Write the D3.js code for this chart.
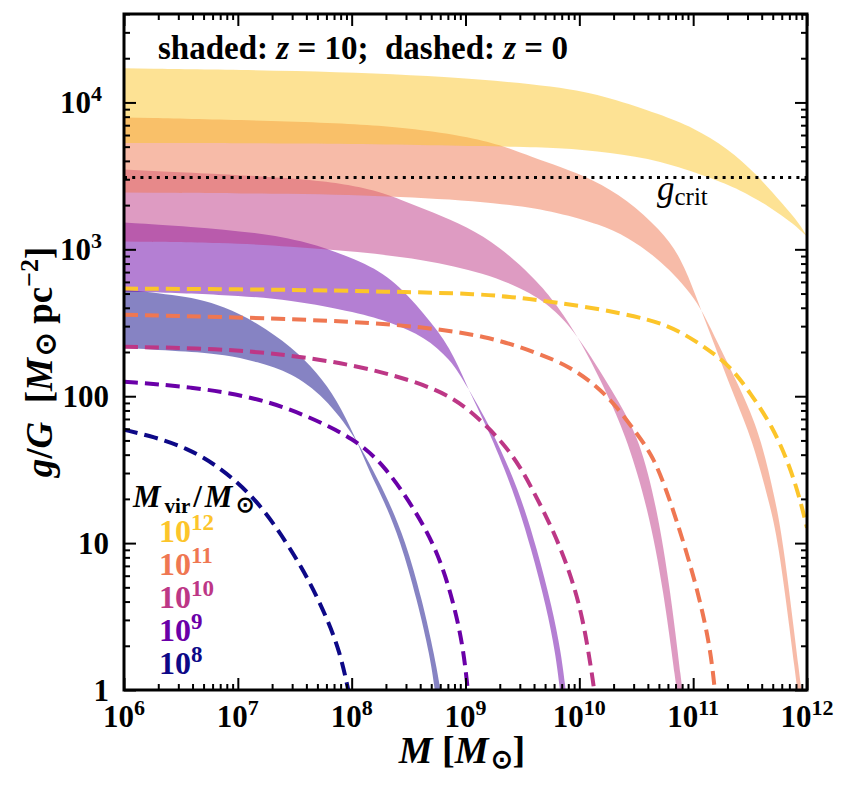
<!DOCTYPE html>
<html>
<head>
<meta charset="utf-8">
<script src="https://cdn.jsdelivr.net/npm/d3@7"></script>
<style>
  body { margin: 0; background: #fff; }
  text { font-family: 'Liberation Serif', 'Times New Roman', serif; font-weight: bold; white-space: pre; }
</style>
</head>
<body>
<div id="chart"></div>
<script>
// values, stored as [log10 M, log10 g/G]
// shaded bands (z = 10): upper and lower edge of each band, they cross at M ~ Mvir
const band8Upper = [[6.00,2.726],[6.59,2.678],[6.88,2.610],[7.17,2.501],[7.47,2.337],[7.70,2.160],[7.87,1.976],[8.03,1.724],[8.16,1.479],[8.28,1.295],[8.425,1.022],[8.575,0.613],[8.69,0.225],[8.73,0]];
const band8Lower = [[6.00,2.330],[6.59,2.303],[6.88,2.283],[7.17,2.235],[7.47,2.160],[7.76,1.997],[8.03,1.724],[8.20,1.479],[8.32,1.295],[8.47,1.022],[8.62,0.613],[8.73,0.225],[8.78,0]];
const band9Upper = [[6.00,3.182],[6.59,3.155],[7.17,3.114],[7.61,3.053],[8.05,2.930],[8.35,2.808],[8.64,2.56],[8.87,2.33],[9.01,2.07],[9.19,1.792],[9.42,1.363],[9.58,0.954],[9.71,0.566],[9.79,0.252],[9.83,0]];
const band9Lower = [[6.00,2.712],[6.88,2.692],[7.47,2.658],[8.05,2.569],[8.35,2.501],[8.64,2.405],[8.87,2.25],[9.01,2.07],[9.22,1.792],[9.47,1.363],[9.63,0.954],[9.76,0.566],[9.84,0.252],[9.88,0]];
const band10Upper = [[6.00,3.543],[7.55,3.489],[8.14,3.421],[8.43,3.339],[8.72,3.250],[9.01,3.155],[9.30,3.019],[9.59,2.814],[9.77,2.658],[10.01,2.385],[10.27,1.976],[10.42,1.704],[10.60,1.247],[10.74,0.681],[10.855,0]];
const band10Lower = [[6.00,3.053],[6.88,3.046],[7.47,3.019],[8.05,2.985],[8.64,2.930],[9.16,2.842],[9.59,2.705],[9.83,2.555],[10.01,2.385],[10.34,1.976],[10.53,1.704],[10.68,1.247],[10.80,0.681],[10.905,0]];
const band11Upper = [[6.00,3.898],[7.55,3.871],[8.43,3.837],[9.01,3.768],[9.30,3.714],[9.59,3.625],[9.83,3.564],[10.12,3.475],[10.42,3.339],[10.71,3.135],[10.89,2.951],[11.03,2.67],[11.17,2.385],[11.36,1.997],[11.52,1.704],[11.66,1.295],[11.75,1.022],[11.915,0]];
const band11Lower = [[6.00,3.387],[7.55,3.380],[8.43,3.359],[9.30,3.319],[9.83,3.250],[10.18,3.169],[10.42,3.087],[10.71,2.930],[11.03,2.67],[11.20,2.385],[11.45,1.997],[11.60,1.704],[11.72,1.295],[11.79,1.022],[11.95,0]];
const band12Upper = [[6.00,4.232],[7.55,4.218],[8.87,4.177],[9.83,4.109],[10.27,4.034],[10.71,3.918],[11.00,3.83],[11.30,3.69],[11.56,3.509],[11.79,3.305],[11.94,3.169],[12.00,3.087]];
const band12Lower = [[6.00,3.724],[7.55,3.724],[9.30,3.700],[9.83,3.693],[10.27,3.659],[10.71,3.605],[11.15,3.488],[11.41,3.407],[11.67,3.291],[11.89,3.169],[12.00,3.087]];

// dashed curves (z = 0)
const dash8 = [[6.00,1.772],[6.26,1.724],[6.55,1.649],[6.84,1.520],[7.17,1.295],[7.43,1.002],[7.61,0.770],[7.78,0.497],[7.90,0.252],[7.97,0]];
const dash9 = [[6.00,2.099],[6.59,2.065],[7.17,1.990],[7.59,1.874],[8.03,1.710],[8.29,1.526],[8.54,1.247],[8.75,0.954],[8.89,0.613],[8.98,0.293],[9.02,0]];
const dash10 = [[6.00,2.337],[6.84,2.324],[7.43,2.283],[8.01,2.215],[8.52,2.112],[8.89,1.997],[9.13,1.840],[9.33,1.683],[9.48,1.520],[9.59,1.363],[9.77,1.090],[9.92,0.797],[10.03,0.497],[10.11,0.116],[10.13,0]];
const dash11 = [[6.00,2.555],[7.13,2.535],[8.01,2.508],[8.60,2.474],[9.19,2.410],[9.63,2.296],[9.92,2.201],[10.16,2.065],[10.33,1.928],[10.51,1.740],[10.65,1.588],[10.77,1.350],[10.89,1.070],[11.04,0.681],[11.15,0.293],[11.19,0]];
const dash12 = [[6.00,2.733],[7.43,2.726],[8.31,2.712],[9.13,2.698],[9.54,2.665],[10.07,2.610],[10.65,2.521],[10.90,2.435],[11.13,2.32],[11.33,2.201],[11.50,2.024],[11.70,1.792],[11.85,1.520],[11.94,1.295],[12.00,1.104]];

const gCrit = 3080;
const mvirExps = [8, 9, 10, 11, 12];
const colors = ['#0d0887', '#6a00a8', '#bd3786', '#ef7752', '#fcc52a'];
const xTickExps = [6, 7, 8, 9, 10, 11, 12];
const yTickValues = [1, 10, 100, 1000, 10000];

const bands = [[band8Upper, band8Lower], [band9Upper, band9Lower], [band10Upper, band10Lower], [band11Upper, band11Lower], [band12Upper, band12Lower]];
const dashes = [dash8, dash9, dash10, dash11, dash12];

// add SVG to the page
const margin = { top: 14, right: 43, bottom: 108, left: 124 };
const width = 850 - margin.left - margin.right;
const height = 798 - margin.top - margin.bottom;
const svg = d3
    .select('#chart')
    .append('svg')
    .attr('width', width + margin.left + margin.right)
    .attr('height', height + margin.top + margin.bottom)
    .append('g')
    .attr('transform', `translate(${margin.left}, ${margin.top})`);

const xScale = d3.scaleLog().domain([1e6, 1e12]).range([0, width]);
const yScale = d3.scaleLog().domain([1, 4e4]).range([height, 0]);

svg.append('clipPath')
    .attr('id', 'plot-clip')
    .append('rect')
    .attr('width', width)
    .attr('height', height);

const plot = svg.append('g').attr('clip-path', 'url(#plot-clip)');

// basis spline smooths out the reading noise of the picked points
const line = d3
    .line()
    .x(d => xScale(Math.pow(10, d[0])))
    .y(d => yScale(Math.pow(10, d[1])))
    .curve(d3.curveBasis);

// band = upper edge, then lower edge walked backwards
const bandPath = (upper, lower) => {
    const top = line(upper);
    const bottom = line(lower.slice().reverse());
    return top + 'L' + bottom.slice(1) + 'Z';
};

plot.selectAll('.band')
    .data(bands)
    .enter()
    .append('path')
    .attr('class', 'band')
    .attr('d', d => bandPath(d[0], d[1]))
    .attr('fill', (d, i) => colors[i])
    .attr('fill-opacity', 0.5)
    .attr('stroke', 'none');

plot.selectAll('.dash')
    .data(dashes)
    .enter()
    .append('path')
    .attr('class', 'dash')
    .attr('d', line)
    .style('fill', 'none')
    .attr('stroke', (d, i) => colors[i])
    .attr('stroke-width', 4)
    .attr('stroke-dasharray', '14 7');

plot.append('line')
    .attr('x1', 0)
    .attr('x2', width)
    .attr('y1', yScale(gCrit))
    .attr('y2', yScale(gCrit))
    .attr('stroke', '#000')
    .attr('stroke-width', 3)
    .attr('stroke-dasharray', '3 5.2');

// ticks on all four sides, pointing inward
const majorX = xTickExps.map(e => Math.pow(10, e));
const minorX = xScale.ticks().filter(v => !majorX.some(m => Math.abs(m - v) / m < 1e-9));
const minorY = yScale.ticks().filter(v => !yTickValues.some(m => Math.abs(m - v) / m < 1e-9));

const tickAxis = (axis, values, size) => axis.tickValues(values).tickSizeInner(-size).tickSizeOuter(0).tickFormat('');

[[12, majorX, yTickValues], [6, minorX, minorY]].forEach(([size, xs, ys]) => {
    svg.append('g').attr('transform', `translate(0, ${height})`).call(tickAxis(d3.axisBottom(xScale), xs, size));
    svg.append('g').call(tickAxis(d3.axisTop(xScale), xs, size));
    svg.append('g').call(tickAxis(d3.axisLeft(yScale), ys, size));
    svg.append('g').attr('transform', `translate(${width}, 0)`).call(tickAxis(d3.axisRight(yScale), ys, size));
});
svg.selectAll('.domain').remove();
svg.selectAll('.tick line').attr('stroke', '#000').attr('stroke-width', 2);

svg.append('rect')
    .attr('width', width)
    .attr('height', height)
    .attr('fill', 'none')
    .attr('stroke', '#000')
    .attr('stroke-width', 3);

// tick labels
const xLabels = svg.selectAll('.xlab')
    .data(xTickExps)
    .enter()
    .append('text')
    .attr('class', 'xlab')
    .attr('x', d => xScale(Math.pow(10, d)))
    .attr('y', height + 37)
    .attr('text-anchor', 'middle')
    .style('font-size', '31px');
xLabels.append('tspan').text('10');
xLabels.append('tspan').attr('dy', -12).style('font-size', '22px').text(d => d);

const yLabels = svg.selectAll('.ylab')
    .data(yTickValues)
    .enter()
    .append('text')
    .attr('class', 'ylab')
    .attr('x', d => d < 1000 ? -15 : -22)
    .attr('y', d => yScale(d) + 11)
    .attr('text-anchor', 'end')
    .style('font-size', '31px');
yLabels.append('tspan').text(d => d < 1000 ? String(d) : '10');
yLabels.filter(d => d >= 1000).append('tspan').attr('dy', -12).style('font-size', '22px').text(d => Math.round(Math.log10(d)));

// axis titles
const xTitle = svg.append('text')
    .attr('x', 338)
    .attr('y', height + 73)
    .attr('text-anchor', 'middle')
    .style('font-size', '38px');
xTitle.append('tspan').style('font-style', 'italic').text('M');
xTitle.append('tspan').text(' [');
xTitle.append('tspan').style('font-style', 'italic').text('M');
xTitle.append('tspan').attr('dx', 2).attr('dy', 5).style('font-size', '26px').text('⊙');
xTitle.append('tspan').attr('dy', -5).text(']');

const yTitle = svg.append('text')
    .attr('transform', `translate(${52 - margin.left}, ${362 - margin.top}) rotate(-90)`)
    .attr('text-anchor', 'middle')
    .style('font-size', '37px');
yTitle.append('tspan').style('font-style', 'italic').text('g');
yTitle.append('tspan').text('/');
yTitle.append('tspan').style('font-style', 'italic').text('G');
yTitle.append('tspan').text('  [');
yTitle.append('tspan').style('font-style', 'italic').text('M');
yTitle.append('tspan').attr('dx', 2).attr('dy', 3).style('font-size', '28px').text('⊙');
yTitle.append('tspan').attr('dy', -3).text(' pc');
yTitle.append('tspan').attr('dy', -14).style('font-size', '26px').text('−2');
yTitle.append('tspan').attr('dy', 14).text(']');

// header text
const header = svg.append('text')
    .attr('x', 34)
    .attr('y', 45)
    .style('font-size', '33px');
header.append('tspan').text('shaded: ');
header.append('tspan').style('font-style', 'italic').text('z');
header.append('tspan').text(' = 10;  dashed: ');
header.append('tspan').style('font-style', 'italic').text('z');
header.append('tspan').text(' = 0');

// g_crit label
const critLabel = svg.append('text')
    .attr('x', 533)
    .attr('y', 186)
    .style('font-size', '35px');
critLabel.append('tspan').style('font-style', 'italic').style('font-weight', 'normal').text('g');
critLabel.append('tspan').attr('dy', 5).style('font-size', '25px').style('font-weight', 'normal').text('crit');

// legend
const legendTitle = svg.append('text')
    .attr('x', 9)
    .attr('y', 493)
    .style('font-size', '31px');
legendTitle.append('tspan').style('font-style', 'italic').text('M');
legendTitle.append('tspan').attr('dx', 4).attr('dy', 6).style('font-size', '21px').text('vir');
legendTitle.append('tspan').attr('dx', 3).attr('dy', -6).text('/');
legendTitle.append('tspan').attr('dx', 3).style('font-style', 'italic').text('M');
legendTitle.append('tspan').attr('dx', 4).attr('dy', 5).style('font-size', '22px').text('⊙');

const legendRows = svg.selectAll('.legrow')
    .data(mvirExps.slice().reverse())
    .enter()
    .append('text')
    .attr('class', 'legrow')
    .attr('x', 35)
    .attr('y', (d, i) => 528 + i * 33)
    .attr('fill', d => colors[mvirExps.indexOf(d)])
    .style('font-size', '32px');
legendRows.append('tspan').text('10');
legendRows.append('tspan').attr('dy', -12).style('font-size', '23px').text(d => d);
</script>
</body>
</html>
